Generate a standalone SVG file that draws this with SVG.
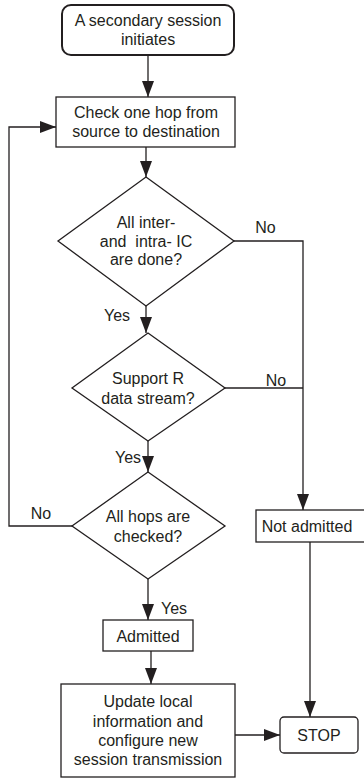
<svg xmlns="http://www.w3.org/2000/svg" width="364" height="779" viewBox="0 0 364 779">
<defs>
<style>
.box{fill:#fff;stroke:#231f20;stroke-width:1.3}
.ln{fill:none;stroke:#231f20;stroke-width:1.3}
text{font-family:"Liberation Sans",Arial,sans-serif;font-size:16px;fill:#231f20;text-anchor:middle}
</style>
<marker id="ah" markerUnits="userSpaceOnUse" markerWidth="17" markerHeight="12" refX="16" refY="6" orient="auto">
<path d="M0,0 L16,6 L0,12 Z" fill="#231f20"/>
</marker>
</defs>
<rect width="364" height="779" fill="#fff"/>
<g id="connectors">
<path class="ln" d="M148,55 V97" marker-end="url(#ah)"/>
<path class="ln" d="M146,147 V177" marker-end="url(#ah)"/>
<path class="ln" d="M146,306 V333" marker-end="url(#ah)"/>
<path class="ln" d="M148,441 V472" marker-end="url(#ah)"/>
<path class="ln" d="M148,579 V620" marker-end="url(#ah)"/>
<path class="ln" d="M151,651 V684" marker-end="url(#ah)"/>
<path class="ln" d="M235,735 H280" marker-end="url(#ah)"/>
<path class="ln" d="M234,241 H303 V510" marker-end="url(#ah)"/>
<path class="ln" d="M225,388 H303"/>
<path class="ln" d="M310,542 V717" marker-end="url(#ah)"/>
<path class="ln" d="M72,526 H9 V127 H56" marker-end="url(#ah)"/>
<text x="265.5" y="233">No</text>
<text x="276" y="386">No</text>
<text x="41" y="519">No</text>
<text x="117" y="321">Yes</text>
<text x="128" y="463">Yes</text>
<text x="174" y="614">Yes</text>
</g>
<g id="start">
<rect class="box" x="62" y="5" width="172" height="50" rx="9" style="stroke-width:2"/>
<text x="148" y="26">A secondary session</text>
<text x="148" y="45">initiates</text>
</g>
<g id="check">
<rect class="box" x="56" y="97" width="179" height="50"/>
<text x="146" y="118">Check one hop from</text>
<text x="146" y="137">source to destination</text>
</g>
<g id="d1">
<polygon class="box" points="146,177 234,241 146,306 58,241"/>
<text x="146" y="228">All inter-</text>
<text x="146" y="247" xml:space="preserve">and  intra- IC</text>
<text x="146" y="265">are done?</text>
</g>
<g id="d2">
<polygon class="box" points="148,333 225,388 148,441 72,388"/>
<text x="148" y="384">Support R</text>
<text x="148" y="404">data stream?</text>
</g>
<g id="d3">
<polygon class="box" points="148,472 225,526 148,579 72,526"/>
<text x="148" y="522">All hops are</text>
<text x="148" y="542">checked?</text>
</g>
<g id="notadmitted">
<rect class="box" x="256" y="510" width="110" height="32"/>
<text x="307" y="532">Not admitted</text>
</g>
<g id="admitted">
<rect class="box" x="103" y="620" width="90" height="31"/>
<text x="148" y="642">Admitted</text>
</g>
<g id="update">
<rect class="box" x="61" y="684" width="174" height="93"/>
<text x="148" y="707">Update local</text>
<text x="148" y="727">information and</text>
<text x="148" y="746">configure new</text>
<text x="148" y="765">session transmission</text>
</g>
<g id="stop">
<rect class="box" x="280" y="717" width="78" height="36" rx="4"/>
<text x="319" y="741">STOP</text>
</g>
</svg>
